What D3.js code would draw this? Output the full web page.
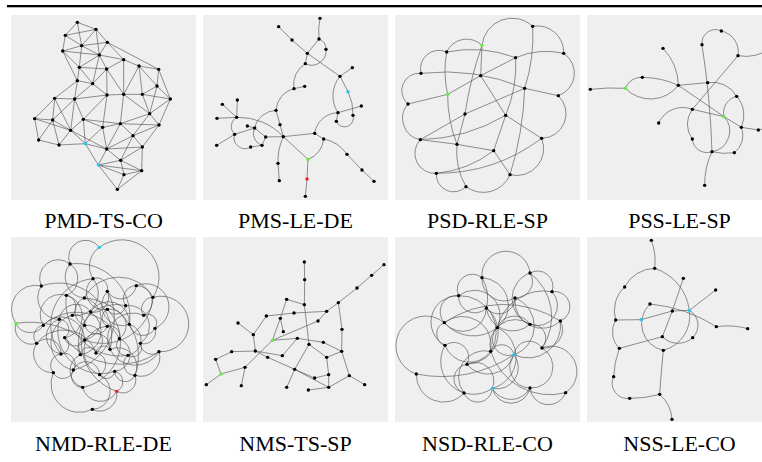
<!DOCTYPE html>
<html>
<head>
<meta charset="utf-8">
<script src="https://cdn.jsdelivr.net/npm/d3@7"></script>
<style>
  body { margin: 0; background: #fff; }
</style>
</head>
<body>
<div id="chart"></div>
<script>
// panel titles
const labels = ['PMD-TS-CO', 'PMS-LE-DE', 'PSD-RLE-SP', 'PSS-LE-SP',
                'NMD-RLE-DE', 'NMS-TS-SP', 'NSD-RLE-CO', 'NSS-LE-CO'];

// node positions (x, y, optional colour flag), edges as [a, b] straight,
// [a, b, bend] arc with bulge ratio, or [a, b, mx, my] arc through a mid point
const nodes1 = [[232,67],[288,88],[196,106],[245,137],[322,127],[188,153],[298,165],[371,179],[417,198],[476,208],
  [238,202],[320,207],[232,242],[278,251],[471,258],[164,295],[224,297],[321,285],[371,283],[427,283],
  [511,297],[104,356],[158,360],[250,358],[449,341],[361,371],[308,382],[477,375],[212,391],[116,420],
  [177,435],[256,431,'c'],[399,407],[320,447],[427,441],[362,481],[295,495,'c'],[425,512],[372,524],[352,568]];
const edges1 = [[0,1],[0,2],[0,3],[1,2],[1,3],[1,4],[1,6],[2,5],[2,3],[3,4],[3,6],[3,5],[3,10],[5,10],[5,12],[5,6],
  [4,6],[4,7],[4,9],[6,7],[6,10],[6,11],[6,13],[7,8],[8,9],[7,11],[10,11],[10,12],[10,13],[11,13],[11,17],[11,18],
  [7,18],[8,18],[8,19],[8,14],[9,14],[9,20],[12,13],[12,15],[12,16],[13,17],[13,16],[14,19],[14,20],[14,24],[15,16],
  [15,21],[15,22],[15,28],[16,17],[16,22],[16,23],[16,28],[17,18],[17,23],[17,26],[18,19],[18,25],[18,24],[19,20],
  [19,24],[20,24],[20,27],[21,22],[21,29],[21,28],[22,28],[22,29],[22,30],[23,28],[23,26],[23,25],[23,31],[24,27],
  [24,25],[24,32],[25,26],[25,27],[25,32],[25,33],[26,31],[26,33],[27,32],[27,34],[28,30],[28,31],[28,33],[29,30],
  [30,31],[31,36],[31,33],[32,34],[32,33],[32,35],[33,34],[33,35],[33,36],[34,35],[34,37],[35,36],[35,38],[35,37],
  [36,38],[36,39],[36,37],[37,38],[37,39],[38,39]];

const nodes2 = [[366,55],[242,80],[282,120],[363,117],[384,148],[328,160],[322,191],[426,229],[463,203],[450,275,'c'],
  [288,266],[320,259],[490,318],[420,338],[465,346],[415,364],[234,331],[118,300],[73,313],[57,355],
  [116,352],[148,378],[170,384],[246,374],[110,403],[56,436],[203,411],[256,410],[158,441],[192,436],
  [350,400],[377,417],[330,478,'g'],[240,490],[244,542],[327,537,'r'],[322,589],[447,463],[492,510],[528,544]];
const edges2 = [[0,3,362,86],[1,2],[2,5],[3,5],[3,4,378,128],[4,6,368,186],[5,6],[5,7],[7,8],[7,9],[7,13,405,283],
  [9,14,462,310],[14,15,445,380],[13,12],[13,15],[13,30,375,355],[6,10,295,220],[10,11],[10,16,250,290],[16,23],
  [16,22,195,345],[23,27],[27,30],[30,31],[31,32,362,455],[27,32],[32,35],[35,36],[27,33,243,450],[33,34],
  [31,37,415,432],[37,38],[38,39],[19,20],[20,27,190,365],[17,20],[18,20],[20,24,100,378],[24,25],[24,22],[21,22],
  [22,26],[26,27],[24,28,122,440],[28,29],[22,29,172,420],[29,26]];

const nodes3 = [[428,79],[276,136,'g'],[521,160],[170,156],[377,173],[93,220],[272,227],[404,265],[173,283,'g'],[505,287],
  [54,312],[225,342],[347,346],[91,419],[201,433],[455,415],[311,452],[139,520],[360,524],[228,560]];
const edges3 = [[0,2,494,97],[2,9,553,225],[9,15,525,362],[15,18,440,500],[18,19,300,575],[19,17,172,572],
  [17,13,80,485],[13,10,40,372],[10,5,38,255],[5,3,110,165],[3,1,220,118],[1,0,335,60],
  [3,4,275,150],[10,8],[8,6],[6,4],[4,2,450,155],[1,6],[3,8,165,220],[8,14,180,360],[5,7,250,222],[7,9],[7,11],
  [6,12],[12,15],[12,13,220,400],[11,14],[14,16],[16,18],[16,17,225,500],[13,14],[14,19,205,500],[12,16],
  [0,7,425,170],[7,18,390,400],[1,11,245,240],[4,12,372,260],[17,15,300,495],[13,11]];

const nodes4 = [[418,93],[360,134],[243,145],[468,167],[181,232],[130,265,'g'],[25,268],[289,256],[377,248],[464,289],
  [331,328],[426,350,'g'],[230,369],[478,382],[529,390],[331,417],[390,455],[457,458],[368,556],[565,145],[565,383]];
const edges4 = [[6,5,78,264],[5,4,150,240],[4,7,235,238],[5,7,205,297],[2,7,276,195],[7,8],[1,0,375,98],
  [0,3,458,120],[3,19,518,166],[1,16,380,295],[3,10],[8,9,428,255],[9,13,485,335],[7,11],[12,10,268,330],
  [10,11],[11,13],[13,14],[14,20],[9,11,432,312],[13,17,480,425],[10,15,316,372],[15,16,350,450],
  [11,16,440,412],[16,17,424,460],[16,18,373,505]];

const nodes5 = [[298,52,'c'],[210,102],[279,146],[124,168],[409,167],[322,184],[199,196],[253,204],[459,202],[377,227],
  [322,238],[272,246],[48,280,'g'],[178,268],[217,256],[431,256],[130,286],[254,286],[322,289],[388,283],
  [465,295],[194,323],[254,330],[358,326],[110,340],[421,340],[330,358],[183,372],[241,374],[288,369],
  [384,376],[477,365],[160,428],[220,420],[299,434],[344,424],[405,436],[248,472],[350,484,'r'],[277,538]];
const edges5 = [[0,8,0.42],[8,31,0.6],[31,36,0.3],[36,38,0.35],[38,39,0.3],[39,32,0.35],[32,24,0.3],[24,12,0.3],
  [12,3,0.35],[3,1,0.4],[1,0,0.45],[4,20,0.5],
  [0,2,-0.2],[1,6,0.3],[1,7,-0.3],[2,5,0.3],[2,10,-0.4],[2,14,0.35],[3,13,-0.3],[4,5,0.35],[4,9,-0.3],[4,15,0.4],
  [5,11,0.3],[5,19,-0.4],[6,14,0.3],[6,16,-0.35],[6,21,0.4],[7,8,0.3],[7,17,-0.35],[7,22,0.4],[8,15,-0.3],
  [9,10,0.35],[9,25,0.4],[10,18,-0.3],[10,23,0.4],[11,13,-0.35],[11,19,0.4],[11,28,0.35],[12,16,-0.3],
  [13,21,0.35],[13,27,-0.4],[14,17,0.3],[14,33,-0.4],[15,20,0.4],[15,26,-0.35],[16,24,-0.3],[16,22,0.35],
  [17,18,-0.35],[17,29,0.4],[18,23,0.3],[18,34,-0.4],[19,20,-0.35],[19,30,0.4],[20,25,0.3],[21,22,-0.35],
  [21,27,0.35],[22,26,0.4],[22,28,-0.3],[23,30,-0.35],[23,35,0.4],[24,27,0.35],[25,31,-0.3],[25,30,0.4],
  [26,29,-0.35],[26,36,0.35],[27,32,-0.3],[27,33,0.35],[28,29,0.4],[28,37,-0.35],[29,34,0.35],[30,36,-0.35],
  [31,26,0.3],[32,33,-0.35],[33,34,0.4],[33,37,-0.3],[34,35,-0.35],[34,39,0.4],[35,38,0.35],[35,36,-0.4],
  [37,38,-0.35],[12,22,0.1],
  [1,19,0.25],[3,26,0.3],[6,30,-0.25],[7,36,0.25],[13,35,-0.3],[16,23,0.25],[21,31,-0.2],[24,29,0.3],
  [9,28,-0.3],[5,33,0.25],[2,27,-0.3],[8,22,0.25],[11,38,-0.25],[10,37,0.3]];

const nodes6 = [[319,96],[558,104],[320,149],[521,136],[477,174],[266,208],[319,224],[421,218],[386,244],[288,249],
  [205,258],[247,265],[360,273],[120,279],[432,298],[166,314],[256,305],[223,331,'g'],[298,325],[376,337],
  [333,343],[101,365],[172,363],[431,364],[53,388],[209,382],[253,377],[386,382],[141,412],[290,418],
  [69,432,'g'],[392,434],[454,437],[350,444],[25,464],[130,467],[266,472],[392,472],[500,464],[331,480]];
const edges6 = [[0,2],[2,6],[6,5],[5,11],[6,20],[1,3],[3,4],[4,7],[7,8],[10,9],[9,8],[7,14],[8,12],[12,17],
  [10,15],[13,15],[15,22],[11,16],[11,17],[17,18],[18,19],[19,23],[14,23],[23,32],[32,38],[32,37],[23,27],
  [27,31],[31,33],[31,37],[37,39],[20,27],[20,29],[18,26],[29,36],[29,33],[29,37],[25,29],[22,21],[21,24],
  [24,30],[30,34],[30,28],[28,35],[17,28],[22,26],[22,25]];

const nodes7 = [[276,143],[420,129],[206,197],[375,204],[486,185],[289,234],[163,278],[322,293],[420,283],[511,273],
  [165,346],[456,354],[302,364],[372,374,'c'],[231,403],[79,432],[307,475,'c'],[420,474],[222,489],[527,488]];
const edges7 = [[0,1,0.5],[1,4,0.35],[4,9,0.45],[9,11,0.3],[11,19,0.45],[19,17,0.4],[17,16,0.3],[16,18,0.4],
  [18,15,0.35],[15,6,0.6],[10,6,0.35],[6,2,0.35],[2,0,0.4],
  [0,5,0.1],[0,3,-0.3],[0,7,0.35],[1,3,0.3],[1,8,-0.35],[1,11,0.2],[2,5,-0.35],[2,7,0.4],[2,10,-0.4],[2,12,0.3],
  [3,5,0.35],[3,9,-0.35],[3,13,0.35],[4,8,0.4],[4,7,-0.2],[5,6,0.35],[5,8,-0.3],[5,14,0.35],[6,7,-0.2],
  [6,12,0.35],[6,9,0.15],[7,8,0.3],[7,13,-0.4],[7,16,0.35],[8,11,0.35],[8,12,-0.35],[9,13,0.3],[10,12,-0.3],
  [10,14,0.4],[11,13,-0.35],[11,17,0.4],[12,13,0.35],[12,19,-0.2],[13,14,0.3],[13,16,0.35],[14,18,-0.4],
  [14,16,0.35],[15,13,-0.1],[16,17,-0.4],[17,13,0.3],[18,12,0.35],[10,16,-0.4]];

const nodes8 = [[208,31],[218,115],[128,171],[304,145],[401,180],[204,222],[271,243],[322,241,'c'],[177,269,'c'],[101,270],
  [403,290],[497,296],[241,320],[332,323],[244,361],[112,355],[95,440],[233,493],[143,505],[270,568]];
const edges8 = [[0,1,218,72],[1,2,163,132],[2,9,100,218],[9,15,92,315],[15,16,100,398],[16,18,104,492],
  [18,17,190,502],[17,19,258,525],[17,14,238,425],[1,7,290,165],[7,14,305,318],[3,6],[6,12],[4,7],[8,6],
  [6,7],[9,8],[5,10,310,245],[5,14,180,295],[7,13,348,285],[13,12,288,340],[10,11,450,288],[15,12]];

// where the crops of each panel start, in the units the nodes were read in
const origins = [[33,45],[15,45],[15,45],[15,45],[33,21],[15,21],[15,21],[15,21]];
const panelNodes = [nodes1, nodes2, nodes3, nodes4, nodes5, nodes6, nodes7, nodes8];
const panelEdges = [edges1, edges2, edges3, edges4, edges5, edges6, edges7, edges8];

const width = 762;
const height = 462;
const size = 185;
const colX = [11, 203, 395, 587];
const rowY = [15, 237];
const labelY = [228, 451];
const nodeFill = { c: '#1ec8f2', g: '#5ef03c', r: '#ff1a1a' };

const svg = d3.select('#chart').append('svg')
  .attr('width', width)
  .attr('height', height);

svg.append('rect')
  .attr('x', 7).attr('y', 5)
  .attr('width', width - 7).attr('height', 2.3)
  .attr('fill', '#000');

function arcPath(s, t, e, sx, sy) {
  const x1 = sx(s[0]), y1 = sy(s[1]), x3 = sx(t[0]), y3 = sy(t[1]);
  const straight = `M${x1},${y1}L${x3},${y3}`;
  if (e.length === 2) return straight;
  let mx, my;
  if (e.length === 3) {
    const dx = t[0] - s[0], dy = t[1] - s[1];
    mx = (s[0] + t[0]) / 2 + dy * e[2];
    my = (s[1] + t[1]) / 2 - dx * e[2];
  } else {
    mx = e[2]; my = e[3];
  }
  const x2 = sx(mx), y2 = sy(my);
  const d = 2 * (x1 * (y2 - y3) + x2 * (y3 - y1) + x3 * (y1 - y2));
  if (Math.abs(d) < 1e-6) return straight;
  const a1 = x1 * x1 + y1 * y1, a2 = x2 * x2 + y2 * y2, a3 = x3 * x3 + y3 * y3;
  const cx = (a1 * (y2 - y3) + a2 * (y3 - y1) + a3 * (y1 - y2)) / d;
  const cy = (a1 * (x3 - x2) + a2 * (x1 - x3) + a3 * (x2 - x1)) / d;
  const r = Math.hypot(x1 - cx, y1 - cy);
  const cross = (x2 - x1) * (y3 - y2) - (y2 - y1) * (x3 - x2);
  const sweep = cross > 0 ? 1 : 0;
  const side = (x3 - x1) * (y2 - y1) - (y3 - y1) * (x2 - x1);
  const sideC = (x3 - x1) * (cy - y1) - (y3 - y1) * (cx - x1);
  const large = side * sideC > 0 ? 1 : 0;
  return `M${x1},${y1}A${r},${r} 0 ${large} ${sweep} ${x3},${y3}`;
}

labels.forEach(function(name, p) {
  const col = p % 4, row = Math.floor(p / 4);
  const x0 = colX[col], y0 = rowY[row];
  const o = origins[p];

  const xScale = d3.scaleLinear().domain([o[0], o[0] + size * 3]).range([0, size]);
  const yScale = d3.scaleLinear().domain([o[1], o[1] + size * 3]).range([0, size]);

  const g = svg.append('g')
    .attr('transform', `translate(${x0}, ${y0})`);

  svg.append('clipPath').attr('id', 'clip' + p)
    .append('rect').attr('width', size).attr('height', size);

  g.append('rect')
    .attr('width', size).attr('height', size)
    .attr('fill', '#efefef');

  const inner = g.append('g').attr('clip-path', `url(#clip${p})`);
  const pts = panelNodes[p];

  inner.selectAll('path.edge')
    .data(panelEdges[p]).enter()
    .append('path')
    .attr('class', 'edge')
    .attr('d', e => arcPath(pts[e[0]], pts[e[1]], e, xScale, yScale))
    .attr('fill', 'none')
    .attr('stroke', '#555')
    .attr('stroke-width', 0.65);

  inner.selectAll('circle')
    .data(pts).enter()
    .append('circle')
    .attr('cx', d => xScale(d[0]))
    .attr('cy', d => yScale(d[1]))
    .attr('r', 1.7)
    .attr('fill', d => d[2] ? nodeFill[d[2]] : '#000');

  svg.append('text')
    .attr('x', x0 + size / 2)
    .attr('y', labelY[row])
    .attr('text-anchor', 'middle')
    .style('font-family', '"Liberation Serif", "Times New Roman", serif')
    .style('font-size', '22px')
    .style('fill', '#000')
    .text(name);
});
</script>
</body>
</html>
